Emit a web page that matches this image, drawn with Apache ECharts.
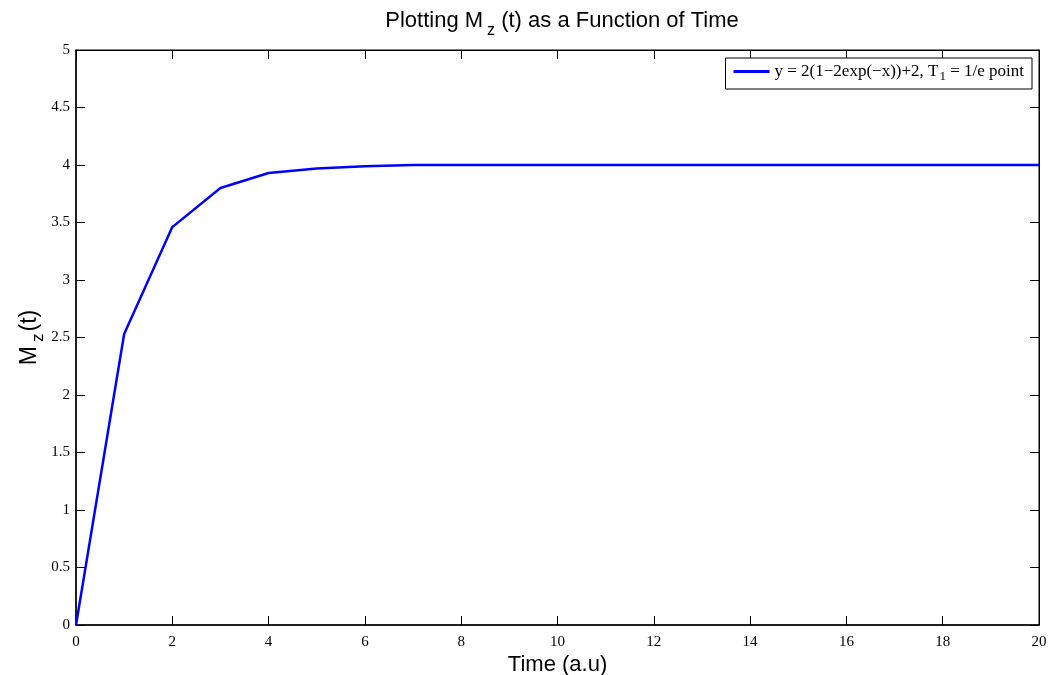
<!DOCTYPE html>
<html><head><meta charset="utf-8">
<script src="https://cdn.jsdelivr.net/npm/echarts@6/dist/echarts.min.js"></script>
<style>html,body{margin:0;padding:0;background:#fff}#c{width:1050px;height:675px}</style>
</head><body><div id="c"></div>
<script>
const timeValues = [0,1,2,3,4,5,6,7,8,9,10,11,12,13,14,15,16,17,18,19,20];
const mzValues = [0,2.53,3.46,3.80,3.93,3.97,3.99,4.00,4.00,4.00,4.00,4.00,4.00,4.00,4.00,4.00,4.00,4.00,4.00,4.00,4.00];
const seriesName = 'y = 2(1\u22122exp(\u2212x))+2, T_1 = 1/e point';

const chart = echarts.init(document.getElementById('c'));
const serif = 'Liberation Serif';
const sans = 'Liberation Sans';
const tickStyle = {show:true, inside:true, length:9, lineStyle:{color:'#000', width:1}};
chart.setOption({
  backgroundColor:'#fff',
  animation:false,
  title:{
    text:'{t|Plotting M}{s|z}{t| (t) as a Function of Time}',
    left:557, textAlign:'center', top:-2,
    textStyle:{fontWeight:'normal',rich:{
      t:{fontFamily:sans,fontSize:22,fontWeight:'normal',color:'#000'},
      s:{fontFamily:sans,fontSize:16,fontWeight:'normal',color:'#000',padding:[20,0,0,4]}
    }}
  },
  legend:{
    right:18, top:58,
    orient:'vertical',
    backgroundColor:'#fff',
    borderColor:'#000', borderWidth:1,
    padding:[5,8,6,8],
    itemWidth:36, itemHeight:3, itemGap:4,
    icon:'rect',
    formatter:function(){return '{a|y = 2(1\u22122exp(\u2212x))+2, T}{s|1}{a| = 1/e point}';},
    textStyle:{rich:{
      a:{fontFamily:serif,fontSize:17,color:'#000'},
      s:{fontFamily:serif,fontSize:13,color:'#000',padding:[10,0,0,1]}
    }}
  },
  grid:{left:76,right:11,top:50,bottom:50,show:true,borderColor:'#000',borderWidth:1,
        containLabel:false, outerBoundsMode:'none'},
  xAxis:[{
    type:'value', min:0, max:20, interval:2,
    name:'Time (a.u)', nameLocation:'middle', nameGap:29, nameMoveOverlap:false,
    nameTextStyle:{fontFamily:sans,fontSize:22,color:'#000'},
    axisLine:{show:true,onZero:false,lineStyle:{color:'#000',width:1.5}},
    axisTick:tickStyle,
    axisLabel:{fontFamily:serif,fontSize:15,color:'#000',margin:10},
    splitLine:{show:false}
  },{
    type:'value', min:0, max:20, interval:2, position:'top',
    axisLine:{show:true,onZero:false,lineStyle:{color:'#000'}},
    axisTick:tickStyle, axisLabel:{show:false}, splitLine:{show:false}
  }],
  yAxis:[{
    type:'value', min:0, max:5, interval:0.5,
    name:'{t|M}{s|z}{t|(t)}', nameLocation:'middle', nameGap:29, nameMoveOverlap:false,
    nameTextStyle:{rich:{
      t:{fontFamily:sans,fontSize:23,color:'#000'},
      s:{fontFamily:sans,fontSize:17,color:'#000',padding:[18,2,0,4]}
    }},
    axisLine:{show:true,onZero:false,lineStyle:{color:'#000',width:1.5}},
    axisTick:tickStyle,
    axisLabel:{fontFamily:serif,fontSize:15,color:'#000',margin:6},
    splitLine:{show:false}
  },{
    type:'value', min:0, max:5, interval:0.5, position:'right',
    axisLine:{show:true,onZero:false,lineStyle:{color:'#000'}},
    axisTick:tickStyle, axisLabel:{show:false}, splitLine:{show:false}
  }],
  series:[{
    name:seriesName,
    type:'line',
    data:timeValues.map((t,i)=>[t,mzValues[i]]),
    showSymbol:false,
    lineStyle:{color:'#0000ff',width:2.5},
    itemStyle:{color:'#0000ff'}
  }]
});
</script></body></html>
